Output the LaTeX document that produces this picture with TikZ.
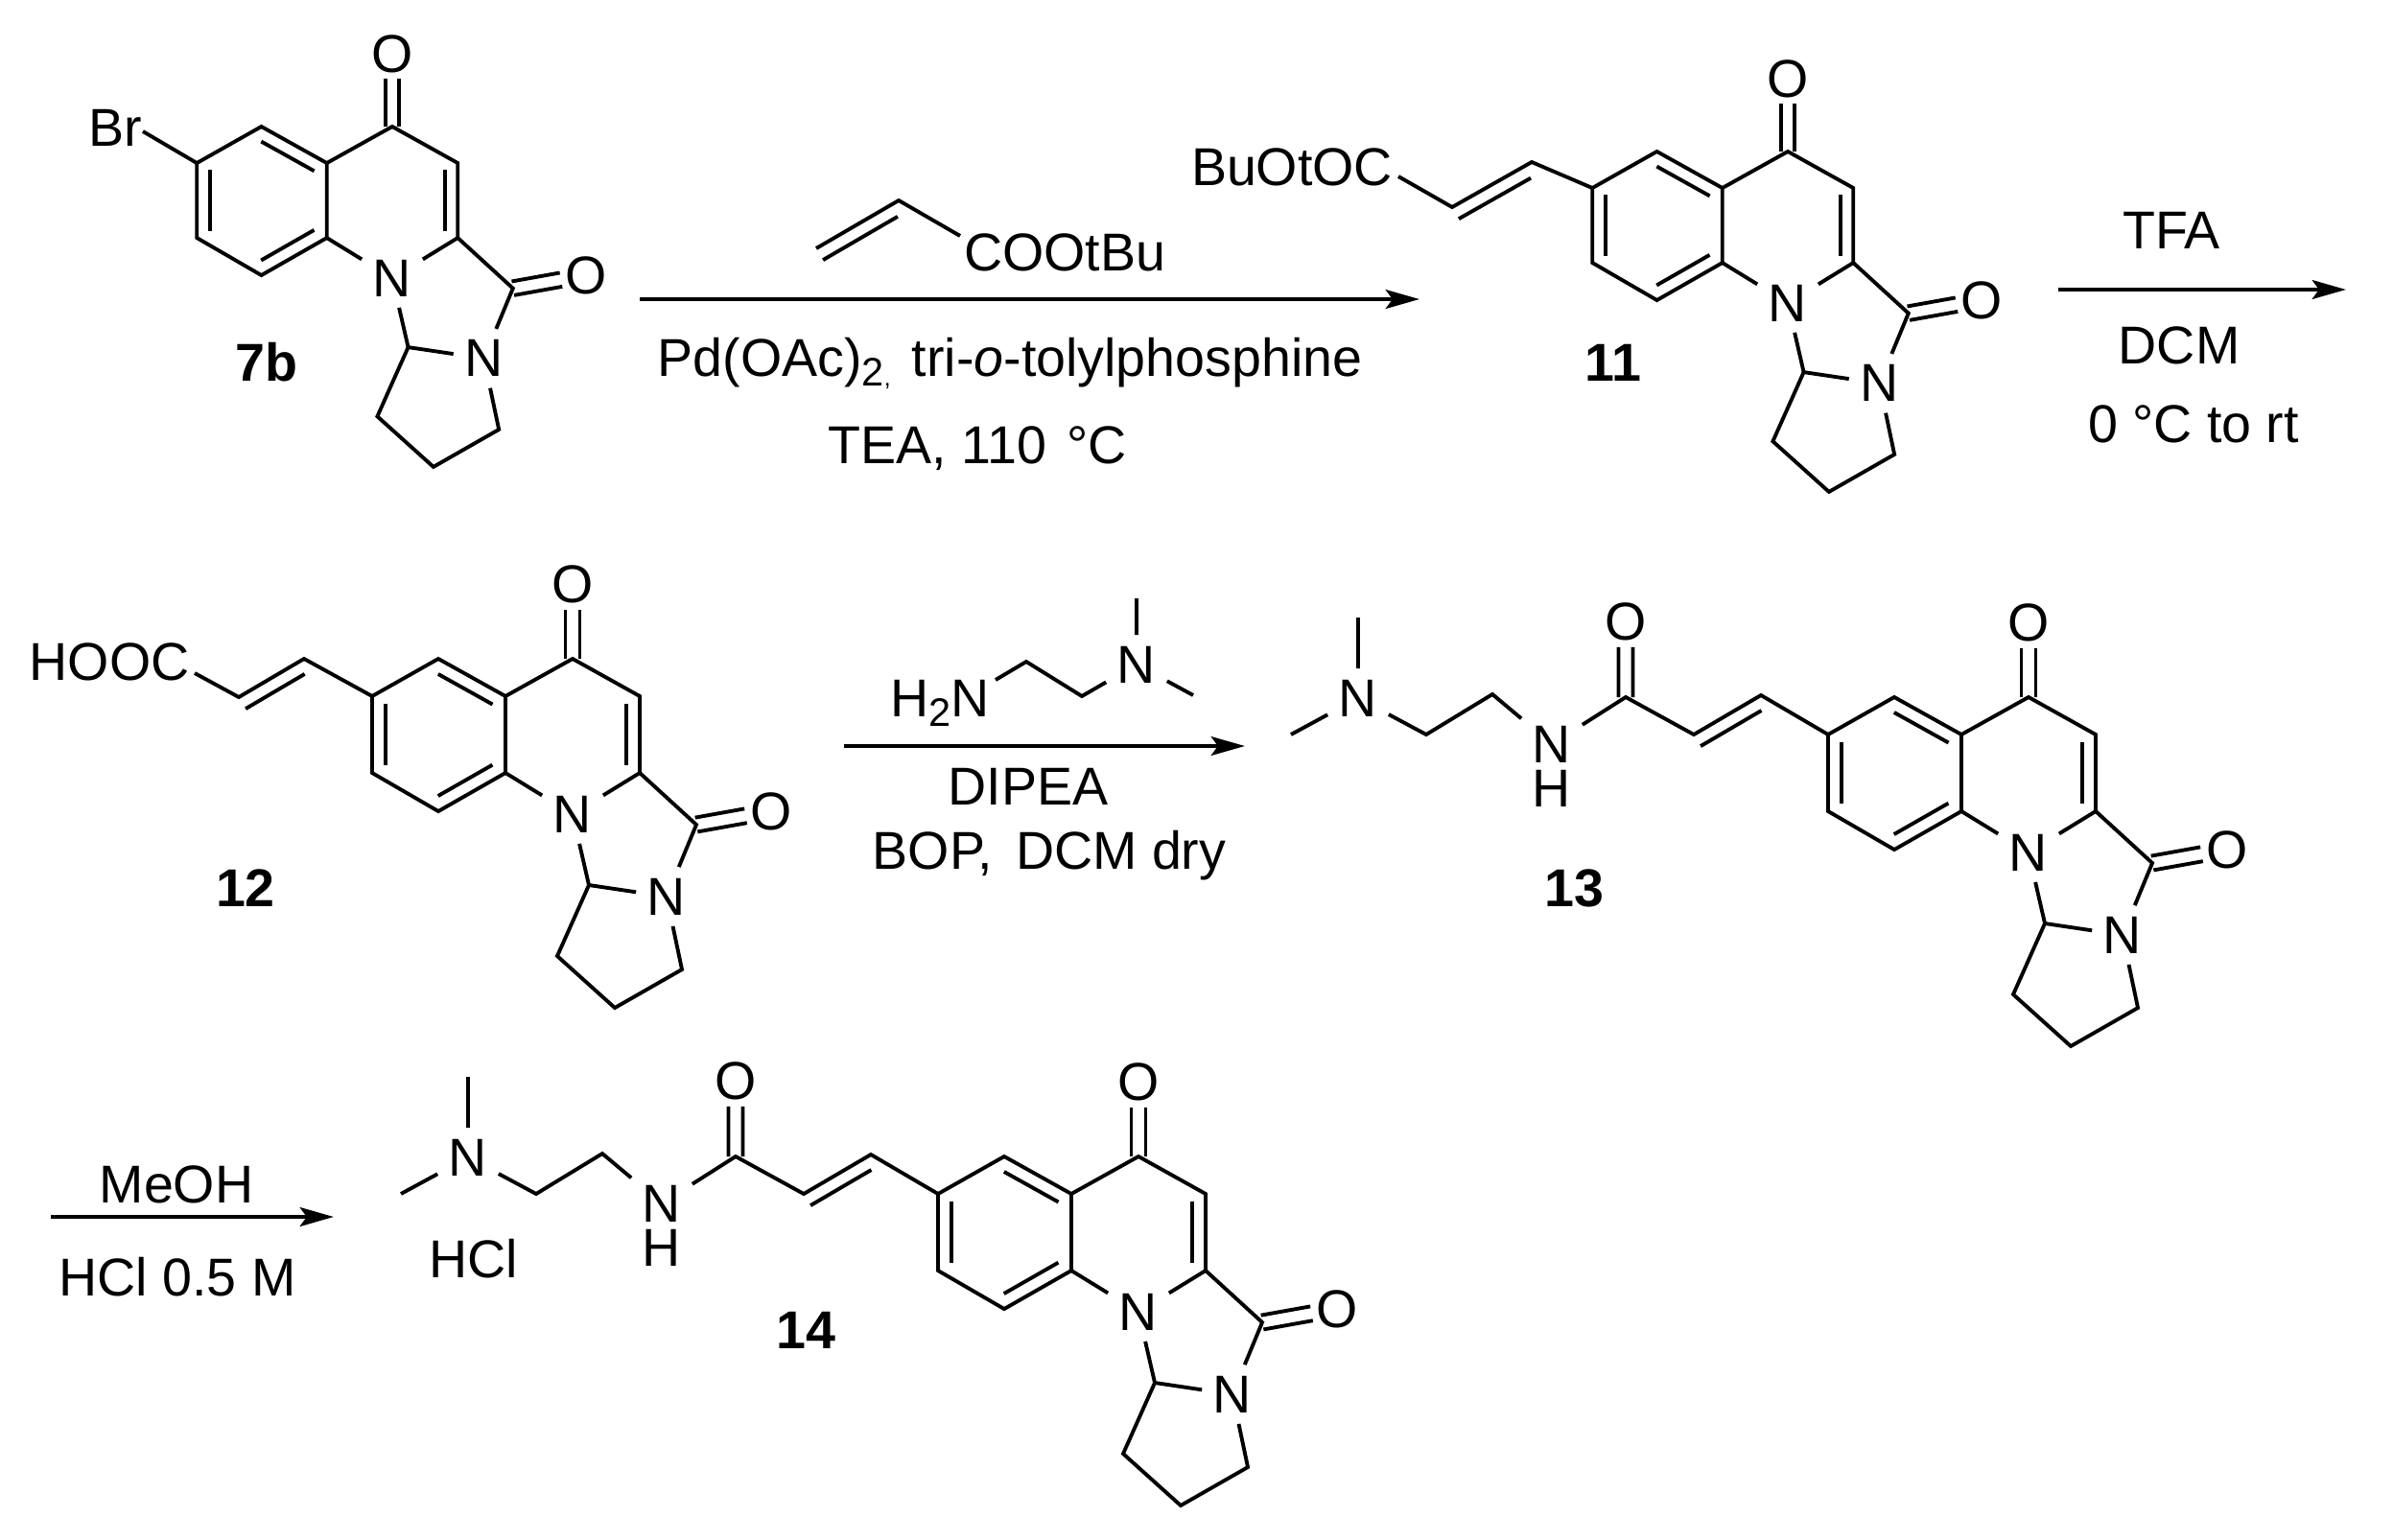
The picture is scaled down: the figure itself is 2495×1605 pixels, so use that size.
\documentclass[tikz,border=0pt]{standalone}
\usepackage{fontspec}
\setmainfont{Liberation Sans}
\usetikzlibrary{calc,positioning,arrows.meta}
\newcommand\chemfont{\fontsize{15.8}{18}\selectfont}
\newcommand\lowtxt[1]{\raisebox{-3pt}{\fontsize{11.8}{12}\selectfont #1}}
% inner line of a double bond
\newcommand\inbond[4][.095]{\draw ($(#2)!#1!(#3)!#4!90:(#3)$) -- ($(#3)!.095!(#2)!#4!-90:(#2)$);}
% C=O pair of lines
\newcommand\cobond[2]{%
\draw ($(#1)!.075cm!90:(#2)$) -- ($(#1)!.66!(#2)!.075cm!90:(#2)$);
\draw ($(#1)!.075cm!-90:(#2)$) -- ($(#1)!.66!(#2)!.075cm!-90:(#2)$);}
\tikzset{
	atom/.style={inner sep=2.8pt,font=\chemfont},
	txt/.style={anchor=base,inner sep=0pt,font=\chemfont},
	cmpd/.style={anchor=base,inner sep=0pt,font=\chemfont\bfseries},
	rxn/.style={line width=1.3pt,-{Stealth[length=10pt,width=5.6pt,inset=2pt]}},
	core/.pic={
		\coordinate (-g) at (0,0);
		\coordinate (-a) at (-209,39);
		\coordinate (-b) at (-140,0);
		\coordinate (-c) at (-70,39);
		\coordinate (-d) at (-70,119);
		\coordinate (-e) at (-140,159);
		\coordinate (-f) at (-209,119);
		\coordinate (-h) at (70,39);
		\coordinate (-i) at (70,119);
		\coordinate (-j) at (129,173);
		\coordinate (-k) at (17,236);
		\coordinate (-l) at (-16,310);
		\coordinate (-m) at (44,364);
		\coordinate (-n) at (114,324);
		\node[atom] (-oa) at (0,-78) {O};
		\node[atom] (-ob) at (207,159) {O};
		\node[atom] (-na) at (0,162) {N};
		\node[atom] (-nb) at (98,248) {N};
		\draw (-a) -- (-b) -- (-c) -- (-d) -- (-e) -- (-f) -- cycle;
		\draw (-c) -- (-g) -- (-h) -- (-i) -- (-j) -- (-nb);
		\draw (-d) -- (-na) -- (-i);
		\draw (-na) -- (-k) -- (-nb);
		\draw (-k) -- (-l) -- (-m) -- (-n) -- (-nb);
		\inbond{-b}{-c}{-.14cm}
		\inbond{-a}{-f}{.14cm}
		\inbond{-d}{-e}{-.14cm}
		\inbond{-h}{-i}{-.14cm}
		\cobond{-g}{-oa}
		\cobond{-j}{-ob}
	},
	sidechain/.pic={
		\coordinate (-a) at (0,0);
		\coordinate (-p) at (-70,-41);
		\coordinate (-q) at (-140,0);
		\coordinate (-co) at (-211,-39);
		\coordinate (-cb) at (-350,-42);
		\coordinate (-cc) at (-419,0);
		\coordinate (-mea) at (-490,-122);
		\coordinate (-meb) at (-560,0);
		\node[atom] (-o) at (-211,-118) {O};
		\node[atom] (-nh) at (-288,10) {N};
		\node[atom] (-h) at (-288,56) {H};
		\node[atom] (-nme) at (-490,-38) {N};
		\draw (-a) -- (-p) -- (-q) -- (-co) -- (-nh) -- (-cb) -- (-cc) -- (-nme) -- (-mea);
		\draw (-nme) -- (-meb);
		\inbond[0]{-q}{-p}{-.14cm}
		\cobond{-co}{-o}
	}
}
\begin{document}
\begin{tikzpicture}[x=.01cm,y=-.01cm,line width=1.1pt]
\useasboundingbox (0,0) rectangle (2495,1605);
% 7b
\pic[scale=.975] (c7b) at (409,132) {core};
\node[txt] (br) at (120,152) {Br};
\coordinate (brend) at (149,137);
\draw (brend) -- (c7b-a);
\node[cmpd] (l7b) at (278,397) {7b};
% first arrow and its reagents
\coordinate (a1s) at (667,312);
\coordinate (a1e) at (1480,312);
\draw[rxn] (a1s) -- (a1e);
\coordinate (va) at (851,259);
\coordinate (vb) at (937,209);
\coordinate (vc) at (1001,246);
\draw (va) -- (vb) -- (vc);
\inbond[.0]{va}{vb}{-.14cm}
\node[txt] (coo) at (1110,282) {COOtBu};
\node[txt] (pd) at (1053,392) {Pd(OAc)\lowtxt{2{\fontsize{7}{7}\selectfont,}}\hspace{.12em} tri-\textit{o}-tolylphosphine};
\node[txt] (tea) at (1019,483) {TEA, 110\hspace{.1em} °C};
% 11
\pic[scale=.975] (c11) at (1864,158) {core};
\coordinate (r11) at (1458,184);
\coordinate (q11) at (1514,216);
\coordinate (p11) at (1597,169);
\draw (r11) -- (q11) -- (p11) -- (c11-a);
\inbond[0]{q11}{p11}{-.14cm}
\node[txt] (bu) at (1347,193) {BuOtOC};
\node[cmpd] (l11) at (1682,397) {11};
% second arrow
\coordinate (a2s) at (2146,302);
\coordinate (a2e) at (2446,302);
\draw[rxn] (a2s) -- (a2e);
\node[txt] (tfa) at (2264,259) {TFA};
\node[txt] (dcm) at (2272,379) {DCM};
\node[txt] (rt) at (2287,461) {0 °C to rt};
% 12
\pic (c12) at (597,687) {core};
\coordinate (r12) at (203,702);
\coordinate (q12) at (249,727);
\coordinate (p12) at (317,687);
\draw (r12) -- (q12) -- (p12) -- (c12-a);
\inbond[0]{q12}{p12}{-.14cm}
\node[txt] (hooc) at (114,709) {HOOC};
\node[cmpd] (l12) at (256,945) {12};
% third arrow with amine
\coordinate (a3s) at (880,778);
\coordinate (a3e) at (1298,778);
\draw[rxn] (a3s) -- (a3e);
\node[txt] (hn) at (980,747) {H\lowtxt{2}N};
\coordinate (ha) at (1038,709);
\coordinate (hb) at (1070,690);
\coordinate (hc) at (1128,726);
\node[atom] (hn2) at (1185,693) {N};
\coordinate (hd) at (1185,624);
\coordinate (he) at (1244,725);
\draw (ha) -- (hb) -- (hc) -- (hn2) -- (hd);
\draw (hn2) -- (he);
\node[txt] (dip) at (1072,839) {DIPEA};
\node[txt] (bop) at (1094,906) {BOP,\hspace{.15em} DCM dry};
% 13
\pic (c13) at (2115,727) {core};
\pic (s13) at (c13-a) {sidechain};
\node[cmpd] (l13) at (1641,945) {13};
% last arrow
\coordinate (a4s) at (53,1269);
\coordinate (a4e) at (348,1269);
\draw[rxn] (a4s) -- (a4e);
\node[txt] (meoh) at (184,1254) {MeOH};
\node[txt] (hcl) at (185,1351) {HCl 0.5 M};
% 14
\pic (c14) at (1187,1206) {core};
\pic (s14) at (c14-a) {sidechain};
\node[txt] (hclb) at (494,1332) {HCl};
\node[cmpd] (l14) at (840,1406) {14};
\end{tikzpicture}
\end{document}
